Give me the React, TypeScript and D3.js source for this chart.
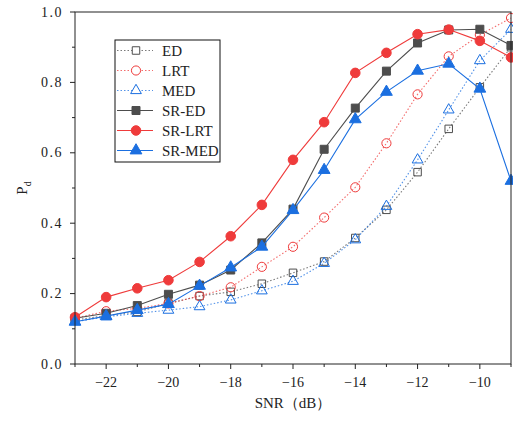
import React from 'react'
import * as d3 from 'd3'

// SNR values (dB)
const snr = [-23, -22, -21, -20, -19, -18, -17, -16, -15, -14, -13, -12, -11, -10, -9]

// detection probability per method
const ed = [0.125, 0.138, 0.148, 0.172, 0.193, 0.205, 0.228, 0.259, 0.291, 0.358, 0.438, 0.545, 0.668, 0.786, 0.9]
const lrt = [0.13, 0.15, 0.158, 0.172, 0.193, 0.218, 0.276, 0.333, 0.416, 0.502, 0.627, 0.766, 0.874, 0.935, 0.983]
const med = [0.12, 0.134, 0.144, 0.153, 0.163, 0.182, 0.208, 0.235, 0.286, 0.353, 0.448, 0.58, 0.722, 0.862, 0.951]
const srEd = [0.13, 0.144, 0.166, 0.198, 0.224, 0.267, 0.344, 0.44, 0.61, 0.727, 0.832, 0.912, 0.949, 0.951, 0.905]
const srLrt = [0.133, 0.19, 0.215, 0.238, 0.29, 0.363, 0.452, 0.58, 0.687, 0.827, 0.884, 0.937, 0.95, 0.918, 0.871]
const srMed = [0.12, 0.136, 0.153, 0.17, 0.222, 0.274, 0.333, 0.437, 0.551, 0.695, 0.773, 0.833, 0.853, 0.782, 0.52]

const xTicks = [-22, -20, -18, -16, -14, -12, -10]
const yTicks = [0, 0.2, 0.4, 0.6, 0.8, 1.0]

const GRAY = '#4d4d4d'
const RED = '#ef3b3b'
const BLUE = '#1b6fe0'

const series = [
  { name: 'ED', values: ed, color: GRAY, dotted: true, symbol: d3.symbolSquare, size: 56 },
  { name: 'LRT', values: lrt, color: RED, dotted: true, symbol: d3.symbolCircle, size: 66 },
  { name: 'MED', values: med, color: BLUE, dotted: true, symbol: d3.symbolTriangle, size: 50 },
  { name: 'SR-ED', values: srEd, color: GRAY, dotted: false, symbol: d3.symbolSquare, size: 64 },
  { name: 'SR-LRT', values: srLrt, color: RED, dotted: false, symbol: d3.symbolCircle, size: 72 },
  { name: 'SR-MED', values: srMed, color: BLUE, dotted: false, symbol: d3.symbolTriangle, size: 60 },
]

const W = 513
const H = 421
const margin = { top: 12, right: 2, bottom: 57, left: 75 }
const fontStyle = { fontFamily: "'Liberation Serif', 'DejaVu Serif', serif" }

export default function App() {
  const x = d3.scaleLinear().domain([-23, -9]).range([margin.left, W - margin.right])
  const y = d3.scaleLinear().domain([0, 1]).range([H - margin.bottom, margin.top])
  const line = d3.line<number>().x((_, i) => x(snr[i])).y(d => y(d))

  const x0 = x(-23)
  const x1 = x(-9)
  const y0 = y(0)
  const y1 = y(1)

  const xMinor = d3.range(-23, -8, 1).filter(v => !xTicks.includes(v))
  const yMinor = d3.range(0.1, 1, 0.2)

  const legX = 115
  const legY = 40
  const legRow = 20

  return (
    <svg width={W} height={H} style={{ position: 'absolute', left: 0, top: 0, background: '#fff', ...fontStyle }}>
      {/* series */}
      {series.map(s => (
        <g key={s.name}>
          <path
            d={line(s.values) || ''}
            fill="none"
            stroke={s.color}
            strokeOpacity={s.dotted ? 0.75 : 1}
            strokeWidth={1.1}
            strokeDasharray={s.dotted ? '1.5 2' : undefined}
          />
          {s.values.map((v, i) => (
            <path
              key={i}
              transform={`translate(${x(snr[i])},${y(v)})`}
              d={d3.symbol().type(s.symbol).size(s.size)() || ''}
              fill={s.dotted ? 'none' : s.color}
              stroke={s.color}
              strokeWidth={1}
            />
          ))}
        </g>
      ))}

      {/* frame */}
      <rect x={x0} y={y1} width={x1 - x0} height={y0 - y1} fill="none" stroke="#222" strokeWidth={1} />

      {/* x axis ticks */}
      {xTicks.map(t => (
        <g key={t}>
          <line x1={x(t)} x2={x(t)} y1={y0} y2={y0 + 5} stroke="#222" />
          <text x={x(t)} y={y0 + 23} textAnchor="middle" style={fontStyle} fontSize={14} fill="#222">
            {t < 0 ? '\u2212' + Math.abs(t) : t}
          </text>
        </g>
      ))}
      {xMinor.map(t => (
        <line key={t} x1={x(t)} x2={x(t)} y1={y0} y2={y0 + 3} stroke="#222" />
      ))}
      <text x={(x0 + x1) / 2} y={y0 + 44} textAnchor="middle" style={fontStyle} fontSize={15} fill="#222">
        SNR（dB）
      </text>

      {/* y axis ticks */}
      {yTicks.map(t => (
        <g key={t}>
          <line x1={x0 - 5} x2={x0} y1={y(t)} y2={y(t)} stroke="#222" />
          <text x={x0 - 12} y={y(t) + 4.5} textAnchor="end" style={fontStyle} fontSize={14} letterSpacing={1.5} fill="#222">
            {t.toFixed(1)}
          </text>
        </g>
      ))}
      {yMinor.map(t => (
        <line key={t} x1={x0 - 3} x2={x0} y1={y(t)} y2={y(t)} stroke="#222" />
      ))}
      <text
        transform={`translate(27,${(y0 + y1) / 2}) rotate(-90)`}
        textAnchor="middle"
        style={fontStyle}
        fontSize={15}
        fill="#222"
      >
        P<tspan fontSize={10} dy={4}>d</tspan>
      </text>

      {/* legend */}
      <rect x={legX} y={legY} width={105} height={122} fill="#fff" stroke="#111" strokeWidth={1} />
      {series.map((s, i) => {
        const cy = legY + 10.5 + i * legRow
        return (
          <g key={s.name}>
            <line
              x1={legX + 2}
              x2={legX + 38}
              y1={cy}
              y2={cy}
              stroke={s.color}
              strokeOpacity={s.dotted ? 0.75 : 1}
              strokeWidth={1.1}
              strokeDasharray={s.dotted ? '1.5 2' : undefined}
            />
            <path
              transform={`translate(${legX + 21},${cy})`}
              d={d3.symbol().type(s.symbol).size(s.size)() || ''}
              fill={s.dotted ? '#fff' : s.color}
              stroke={s.color}
              strokeWidth={1}
            />
            <text x={legX + 47} y={cy + 5} style={fontStyle} fontSize={15} fill="#222">
              {s.name}
            </text>
          </g>
        )
      })}
    </svg>
  )
}
